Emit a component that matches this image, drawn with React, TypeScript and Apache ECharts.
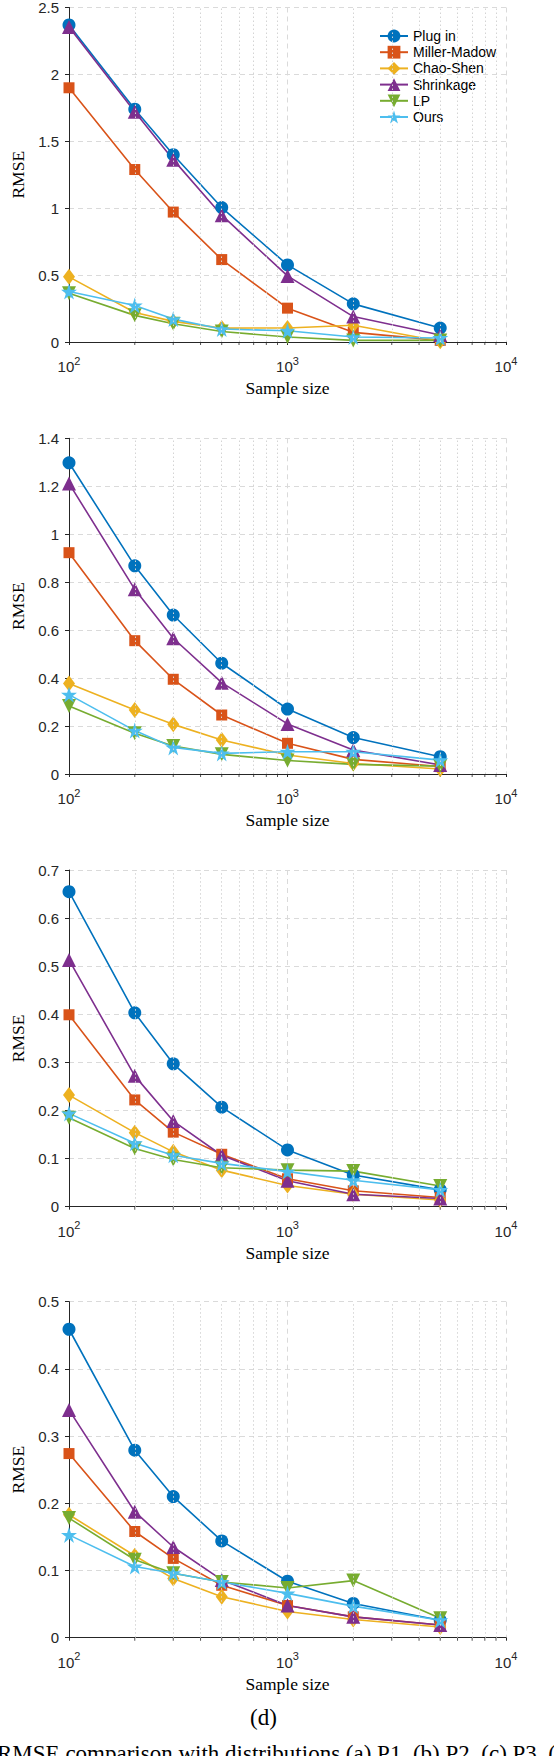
import React, { useEffect, useRef } from "react";
import * as echarts from "echarts";

const SAMPLE_SIZES = [100, 200, 300, 500, 1000, 2000, 5000];
const MINOR_X = [200, 300, 400, 500, 600, 700, 800, 900, 2000, 3000, 4000, 5000, 6000, 7000, 8000, 9000];
const METHODS = ["Plug in", "Miller-Madow", "Chao-Shen", "Shrinkage", "LP", "Ours"];
const COLORS = ["#0072BD", "#D95319", "#EDB120", "#7E2F8E", "#77AC30", "#4DBEEE"];

// Panel (a)
const P1_PLUGIN = [2.37, 1.74, 1.40, 1.005, 0.576, 0.285, 0.104];
const P1_MILLER = [1.90, 1.289, 0.971, 0.616, 0.253, 0.072, 0.012];
const P1_CHAO = [0.487, 0.22, 0.154, 0.104, 0.105, 0.125, 0.005];
const P1_SHRINK = [2.355, 1.72, 1.363, 0.948, 0.494, 0.19, 0.052];
const P1_LP = [0.365, 0.199, 0.137, 0.079, 0.037, 0.012, 0.012];
const P1_OURS = [0.377, 0.273, 0.171, 0.097, 0.084, 0.037, 0.03];

// Panel (b)
const P2_PLUGIN = [1.298, 0.868, 0.663, 0.462, 0.271, 0.152, 0.072];
const P2_MILLER = [0.923, 0.556, 0.395, 0.246, 0.128, 0.061, 0.031];
const P2_CHAO = [0.377, 0.267, 0.207, 0.142, 0.079, 0.044, 0.021];
const P2_SHRINK = [1.212, 0.77, 0.566, 0.381, 0.209, 0.1, 0.038];
const P2_LP = [0.284, 0.17, 0.117, 0.082, 0.056, 0.04, 0.033];
const P2_OURS = [0.331, 0.181, 0.111, 0.086, 0.093, 0.093, 0.058];

// Panel (c)
const P3_PLUGIN = [0.655, 0.403, 0.297, 0.207, 0.118, 0.066, 0.035];
const P3_MILLER = [0.399, 0.222, 0.155, 0.109, 0.058, 0.033, 0.019];
const P3_CHAO = [0.232, 0.154, 0.114, 0.076, 0.044, 0.026, 0.014];
const P3_SHRINK = [0.513, 0.272, 0.178, 0.107, 0.054, 0.026, 0.017];
const P3_LP = [0.185, 0.121, 0.098, 0.081, 0.076, 0.074, 0.043];
const P3_OURS = [0.194, 0.132, 0.107, 0.09, 0.073, 0.055, 0.035];

// Panel (d)
const P4_PLUGIN = [0.459, 0.279, 0.21, 0.144, 0.084, 0.051, 0.026];
const P4_MILLER = [0.274, 0.158, 0.118, 0.078, 0.048, 0.031, 0.019];
const P4_CHAO = [0.183, 0.122, 0.088, 0.061, 0.039, 0.027, 0.016];
const P4_SHRINK = [0.339, 0.1875, 0.135, 0.086, 0.048, 0.031, 0.019];
const P4_LP = [0.178, 0.116, 0.096, 0.083, 0.074, 0.085, 0.029];
const P4_OURS = [0.153, 0.106, 0.096, 0.083, 0.066, 0.047, 0.026];

const PANELS = [
  [P1_PLUGIN, P1_MILLER, P1_CHAO, P1_SHRINK, P1_LP, P1_OURS],
  [P2_PLUGIN, P2_MILLER, P2_CHAO, P2_SHRINK, P2_LP, P2_OURS],
  [P3_PLUGIN, P3_MILLER, P3_CHAO, P3_SHRINK, P3_LP, P3_OURS],
  [P4_PLUGIN, P4_MILLER, P4_CHAO, P4_SHRINK, P4_LP, P4_OURS],
];
const Y_MAX = [2.5, 1.4, 0.7, 0.5];
const Y_STEP = [0.5, 0.2, 0.1, 0.1];

const GRID_TOPS = [6.7, 438.3, 870, 1301.7];
const GRID_HEIGHTS = [335.3, 335.7, 336.7, 336];

const STAR = "path://M0,-10L2.245,-3.09L9.51,-3.09L3.633,1.18L5.88,8.09L0,3.82L-5.88,8.09L-3.633,1.18L-9.51,-3.09L-2.245,-3.09Z";
const DOWN_TRI = "path://M0,0L10,0L5,10Z";
const SYMBOLS: any[] = ["circle", "rect", "diamond", "triangle", DOWN_TRI, STAR];
const SYMBOL_SIZES: any[] = [13, 11, [12, 16], 14, 14, 16];

const SANS = "'Liberation Sans', Arial, Helvetica, sans-serif";
const SERIF = "'Liberation Serif', 'Times New Roman', serif";
const AX = "#262626";
const GRIDC = "#dadada";

function buildOption() {
  const grid: any[] = [];
  const xAxis: any[] = [];
  const yAxis: any[] = [];
  const series: any[] = [];

  PANELS.forEach((panel, p) => {
    grid.push({ left: 69, width: 437, top: GRID_TOPS[p], height: GRID_HEIGHTS[p], containLabel: false });
    xAxis.push({
      type: "log",
      logBase: 10,
      gridIndex: p,
      min: 100,
      max: 10000,
      splitNumber: 2,
      name: "Sample size",
      nameLocation: "middle",
      nameGap: 37,
      nameTextStyle: { fontFamily: SERIF, fontSize: 17.5, color: "#000" },
      axisLine: { show: true, onZero: false, lineStyle: { color: AX, width: 1 } },
      axisTick: { show: true, inside: false, length: 3, lineStyle: { color: AX } },
      splitLine: { show: true, lineStyle: { type: [5, 4], color: GRIDC, width: 1 } },
      axisLabel: {
        margin: 13,
        formatter: (v: number) => `{b|10}{sup|${Math.round(Math.log10(v))}}`,
        rich: {
          b: { fontFamily: SANS, fontSize: 15, color: AX, lineHeight: 19, verticalAlign: "bottom" },
          sup: { fontFamily: SANS, fontSize: 11, color: AX, lineHeight: 11, verticalAlign: "top" },
        },
      },
    });
    yAxis.push({
      type: "value",
      gridIndex: p,
      min: 0,
      max: Y_MAX[p],
      interval: Y_STEP[p],
      name: "RMSE",
      nameLocation: "middle",
      nameGap: 38,
      nameTextStyle: { fontFamily: SERIF, fontSize: 17.5, color: "#000" },
      axisLine: { show: true, onZero: false, lineStyle: { color: AX, width: 1 } },
      axisTick: { show: true, inside: false, length: 4, lineStyle: { color: AX } },
      splitLine: { show: true, lineStyle: { type: [5, 4], color: GRIDC, width: 1 } },
      axisLabel: { margin: 10, fontFamily: SANS, fontSize: 15, color: AX },
    });

    series.push({
      name: "__minor",
      type: "line",
      xAxisIndex: p,
      yAxisIndex: p,
      data: [],
      silent: true,
      z: 1,
      markLine: {
        silent: true,
        symbol: ["none", "none"],
        label: { show: false },
        lineStyle: { type: [1.5, 2.5], color: "#d4d4d4", width: 1 },
        data: MINOR_X.map((v) => ({ xAxis: v })),
      },
    });
    series.push({
      name: "__minorTick",
      type: "scatter",
      xAxisIndex: p,
      yAxisIndex: p,
      data: MINOR_X.map((v) => [v, 0]),
      symbol: "rect",
      symbolSize: [1, 3],
      symbolOffset: [0, 1.5],
      itemStyle: { color: AX },
      silent: true,
      clip: false,
      z: 3,
    });

    panel.forEach((vals, k) => {
      series.push({
        name: METHODS[k],
        type: "line",
        xAxisIndex: p,
        yAxisIndex: p,
        data: SAMPLE_SIZES.map((x, j) => [x, vals[j]]),
        symbol: SYMBOLS[k],
        symbolSize: SYMBOL_SIZES[k],
        showSymbol: true,
        showAllSymbol: true,
        clip: false,
        lineStyle: { color: COLORS[k], width: 1.6 },
        itemStyle: { color: COLORS[k], borderWidth: 0, borderColor: COLORS[k] },
        z: 4,
      });
    });
  });

  return {
    animation: false,
    backgroundColor: "#ffffff",
    grid,
    xAxis,
    yAxis,
    series,
    legend: {
      data: METHODS,
      orient: "vertical",
      left: 374,
      top: 24,
      itemWidth: 28,
      itemHeight: 16,
      itemGap: 2.2,
      selectedMode: false,
      textStyle: { fontFamily: SANS, fontSize: 14, color: "#000" },
    },
    graphic: [
      {
        type: "text",
        left: 250,
        top: 1706,
        style: { text: "(d)", font: `23px ${SERIF}`, fill: "#000" },
      },
      {
        type: "text",
        x: -3,
        y: 1742,
        style: {
          text: "RMSE comparison with distributions (a) P1, (b) P2, (c) P3, (d) P4.",
          font: `23px ${SERIF}`,
          fill: "#000",
          textVerticalAlign: "top",
        },
      },
    ],
  };
}

export default function App() {
  const ref = useRef<HTMLDivElement>(null);
  useEffect(() => {
    if (!ref.current) return;
    const chart = echarts.init(ref.current, null, { renderer: "svg" });
    chart.setOption(buildOption() as any);
    return () => chart.dispose();
  }, []);
  return (
    <div
      ref={ref}
      style={{ position: "absolute", left: 0, top: 0, width: 554, height: 1756, background: "#fff" }}
    />
  );
}
